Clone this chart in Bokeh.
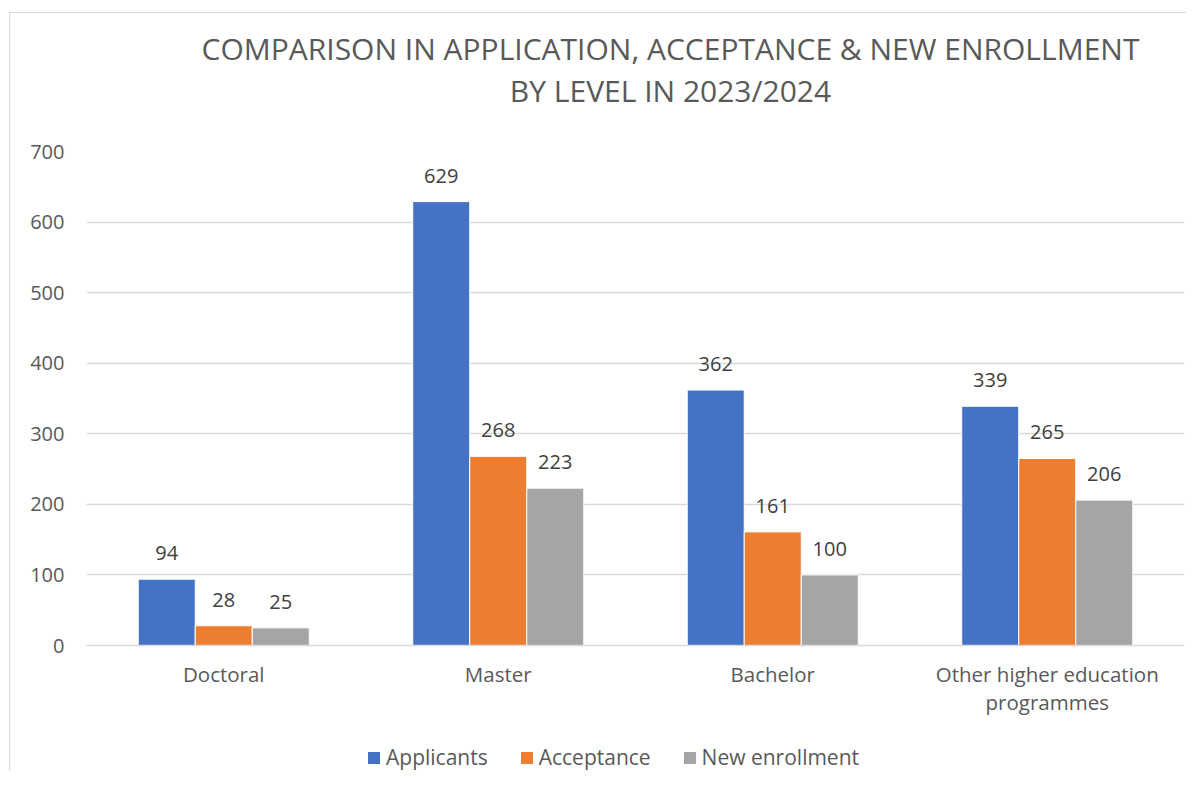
from bokeh.plotting import figure
from bokeh.layouts import column
from bokeh.models import (ColumnDataSource, FactorRange, Range1d, FixedTicker, Legend, LegendItem,
                          CategoricalAxis, CustomJSTickFormatter, Label)
from bokeh.transform import dodge
from bokeh.core.properties import value
from bokeh.embed import file_html
from bokeh.resources import INLINE

categories = ["Doctoral", "Master", "Bachelor", "Other higher education programmes"]
applicants = [94, 629, 362, 339]
acceptance = [28, 268, 161, 265]
new_enrollment = [25, 223, 100, 206]
series_names = ["Applicants", "Acceptance", "New enrollment"]
colors = ["#4472C4", "#ED7D31", "#A5A5A5"]
y_ticks = [0, 100, 200, 300, 400, 500, 600, 700]
title_line1 = "COMPARISON IN APPLICATION, ACCEPTANCE & NEW ENROLLMENT"
title_line2 = "BY LEVEL IN 2023/2024"

FONT = "Open Sans"
TXT = "#595959"
W = 1176
FL, FR = 76, 2   # frame borders of the main chart (column aligns all frames)

# ---------- title strip (data units == canvas pixels) ----------
tf = figure(width=W, height=123, x_range=Range1d(FL, W - FR), y_range=Range1d(0, 123),
            output_backend="svg", toolbar_location=None, x_axis_type=None, y_axis_type=None,
            min_border_left=FL, min_border_right=FR, min_border_top=0, min_border_bottom=0,
            outline_line_color=None)
tf.grid.grid_line_color = None
for txt, yy in [(title_line1, 88), (title_line2, 46)]:
    tf.add_layout(Label(x=660, y=yy, text=txt, text_align="center", text_baseline="middle",
                        text_font=FONT, text_font_size="30px", text_color=TXT))

# ---------- main chart ----------
src = ColumnDataSource(dict(cat=categories, a=applicants, b=acceptance, c=new_enrollment,
                            la=[str(v) for v in applicants], lb=[str(v) for v in acceptance],
                            lc=[str(v) for v in new_enrollment]))

p = figure(width=W, height=594, x_range=FactorRange(*categories, range_padding=0),
           y_range=Range1d(0, 700), output_backend="svg", toolbar_location=None,
           min_border_left=FL, min_border_right=FR, min_border_top=15, min_border_bottom=85)

w = 0.2077
offs = [-w, 0.0, w]
fields = ["a", "b", "c"]
labs = ["la", "lb", "lc"]
for f, lab, o, col in zip(fields, labs, offs, colors):
    p.vbar(x=dodge("cat", o, range=p.x_range), top=f, width=w, bottom=0, source=src,
           fill_color=col, line_color="white", line_width=1)
    p.text(x=dodge("cat", o, range=p.x_range), y=f, text=lab, source=src,
           text_align="center", text_baseline="bottom", y_offset=-19,
           text_font=value(FONT), text_font_size="20px", text_color="#404040")

p.xgrid.grid_line_color = None
p.ygrid.grid_line_color = "#D9D9D9"
p.ygrid.grid_line_width = 1.5
p.yaxis.ticker = FixedTicker(ticks=y_ticks)
p.yaxis.axis_line_color = None
p.yaxis.major_tick_line_color = None
p.yaxis.minor_tick_line_color = None
p.yaxis.major_label_text_font = FONT
p.yaxis.major_label_text_font_size = "20px"
p.yaxis.major_label_text_color = TXT
p.yaxis.major_label_standoff = 16

xax = p.xaxis[0]
xax.axis_line_color = "#D9D9D9"
xax.axis_line_width = 1.5
xax.major_tick_line_color = None
xax.minor_tick_line_color = None
xax.major_label_text_font = FONT
xax.major_label_text_font_size = "20.5px"
xax.major_label_text_color = TXT
xax.major_label_standoff = 8
xax.formatter = CustomJSTickFormatter(code="""
    const i = tick.indexOf(' programmes');
    return i >= 0 ? tick.slice(0, i) : tick;
""")

xax2 = CategoricalAxis(axis_line_color=None, major_tick_line_color=None, minor_tick_line_color=None,
                       major_label_text_font=FONT, major_label_text_font_size="20.5px",
                       major_label_text_color=TXT, major_label_standoff=-9)
xax2.formatter = CustomJSTickFormatter(code="""
    const i = tick.indexOf(' programmes');
    return i >= 0 ? tick.slice(i + 1) : ' ';
""")
p.add_layout(xax2, "below")
p.outline_line_color = None

# ---------- legend strip ----------
lf = figure(width=W, height=41, x_range=Range1d(0, 1), y_range=Range1d(0, 1),
            output_backend="svg", toolbar_location=None, x_axis_type=None, y_axis_type=None,
            min_border_left=FL, min_border_right=FR, min_border_top=0, min_border_bottom=0,
            outline_line_color=None)
lf.grid.grid_line_color = None
# off-screen proxy glyphs that only carry the legend swatch colours
proxies = [lf.vbar(x=[-5], top=[-5], width=0.1, fill_color=c, line_color=None) for c in colors]
legend = Legend(items=[LegendItem(label=n, renderers=[r]) for n, r in zip(series_names, proxies)],
                orientation="horizontal", location=(280, 0),
                label_text_font=FONT, label_text_font_size="21px", label_text_color=TXT,
                glyph_width=15, glyph_height=15, spacing=31, label_standoff=5,
                border_line_color=None, background_fill_alpha=0, padding=0, margin=0)
lf.add_layout(legend, "center")

layout = column(tf, p, lf, spacing=0, margin=(12, 0, 0, 9),
                styles={"border-left": "1px solid #D9D9D9", "border-top": "1px solid #D9D9D9"})

open("out.html", "w").write(file_html(layout, INLINE))
